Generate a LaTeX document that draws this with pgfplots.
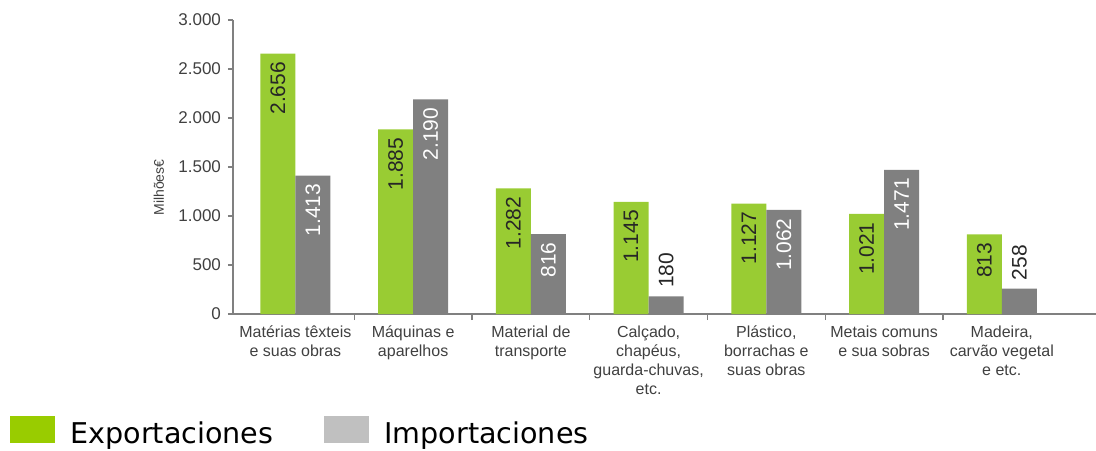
\documentclass[border=0pt]{standalone}
\usepackage{pgfplots}
\pgfplotsset{compat=1.18}
\usepackage{fontspec}
\setmainfont{Liberation Sans}
\newfontfamily\legfont{DejaVu Sans}

\definecolor{expgreen}{RGB}{153,204,51}
\definecolor{impgray}{RGB}{128,128,128}
\definecolor{leggreen}{RGB}{153,204,0}
\definecolor{leggray}{RGB}{192,192,192}
\definecolor{axisgray}{RGB}{128,128,128}
\definecolor{labelgray}{RGB}{64,64,64}

\pgfplotsset{/pgf/number format/.cd, 1000 sep={.}, assume math mode=true}

\begin{document}
\begin{tikzpicture}
\begin{axis}[
  name=ax,
  scale only axis,
  width=431.5pt, height=147pt,
  xmin=-0.53, xmax=6.8,
  ymin=0, ymax=3000,
  axis lines*=left,
  axis line style={axisgray, line width=1pt},
  ybar, bar width=17.5pt,
  xtick={0,...,6},
  xticklabels={
    {Matérias têxteis\\e suas obras},
    {Máquinas e\\aparelhos},
    {Material de\\transporte},
    {Calçado,\\chapéus,\\guarda-chuvas,\\etc.},
    {Plástico,\\borrachas e\\suas obras},
    {Metais comuns\\e sua sobras},
    {Madeira,\\carvão vegetal\\e etc.}},
  major x tick style={draw=none},
  minor xtick={0.5,1.5,...,5.5},
  minor tick length=3pt,
  x tick label style={font=\fontsize{8}{9.5}\selectfont, text=labelgray, align=center},
  ytick={0,500,...,3000},
  y tick label style={font=\fontsize{8.5}{10}\selectfont, text=labelgray},
  tick align=outside,
  major tick length=2.5pt,
  tick style={axisgray, line width=0.6pt},
  ylabel={Milhões€},
  ylabel style={at={(axis description cs:-0.086,0.43)}, anchor=center,
    font=\fontsize{7}{8}\selectfont, text=labelgray},
  legend style={at={(rel axis cs:0,0)}, anchor=west, xshift=-111.5pt, yshift=-58.5pt,
    draw=none, fill=none, inner sep=0pt, nodes={inner sep=0pt},
    font=\legfont\fontsize{14.3}{16}\selectfont,
    /tikz/every odd column/.append style={column sep=7.5pt},
    /tikz/every even column/.append style={column sep=25.5pt}},
  legend columns=2,
  legend image code/.code={\fill[#1] (0pt,-4.5pt) rectangle (22.5pt,9pt);},
  clip=false,
]
\addlegendimage{fill=leggreen, draw=none}
\addlegendentry{Exportaciones}
\addlegendimage{fill=leggray, draw=none}
\addlegendentry{Importaciones}

% Exportaciones
\addplot[forget plot, fill=expgreen, draw=none, bar shift=-8.75pt,
  nodes near coords,
  nodes near coords style={rotate=90, anchor=east, inner sep=4pt,
    font=\fontsize{10.5}{12}\selectfont, text=black!85}]
  coordinates {(0,2656) (1,1885) (2,1282) (3,1145) (4,1127) (5,1021) (6,813)};

% Importaciones (valores grandes, rotulo dentro da barra)
\addplot[forget plot, fill=impgray, draw=none, bar shift=8.75pt,
  nodes near coords,
  nodes near coords style={rotate=90, anchor=east, inner sep=4pt,
    font=\fontsize{10.5}{12}\selectfont, text=white}]
  coordinates {(0,1413) (1,2190) (2,816) (4,1062) (5,1471)};

% Importaciones (valores pequenos, rotulo acima)
\addplot[forget plot, fill=impgray, draw=none, bar shift=8.75pt,
  nodes near coords,
  nodes near coords style={rotate=90, anchor=west, inner sep=4pt,
    font=\fontsize{10.5}{12}\selectfont, text=black!85}]
  coordinates {(3,180) (6,258)};
\end{axis}
\pgfresetboundingbox
\path ([xshift=-116.5pt,yshift=-68pt]ax.south west) rectangle ([yshift=10pt]ax.north east);
\end{tikzpicture}
\end{document}
